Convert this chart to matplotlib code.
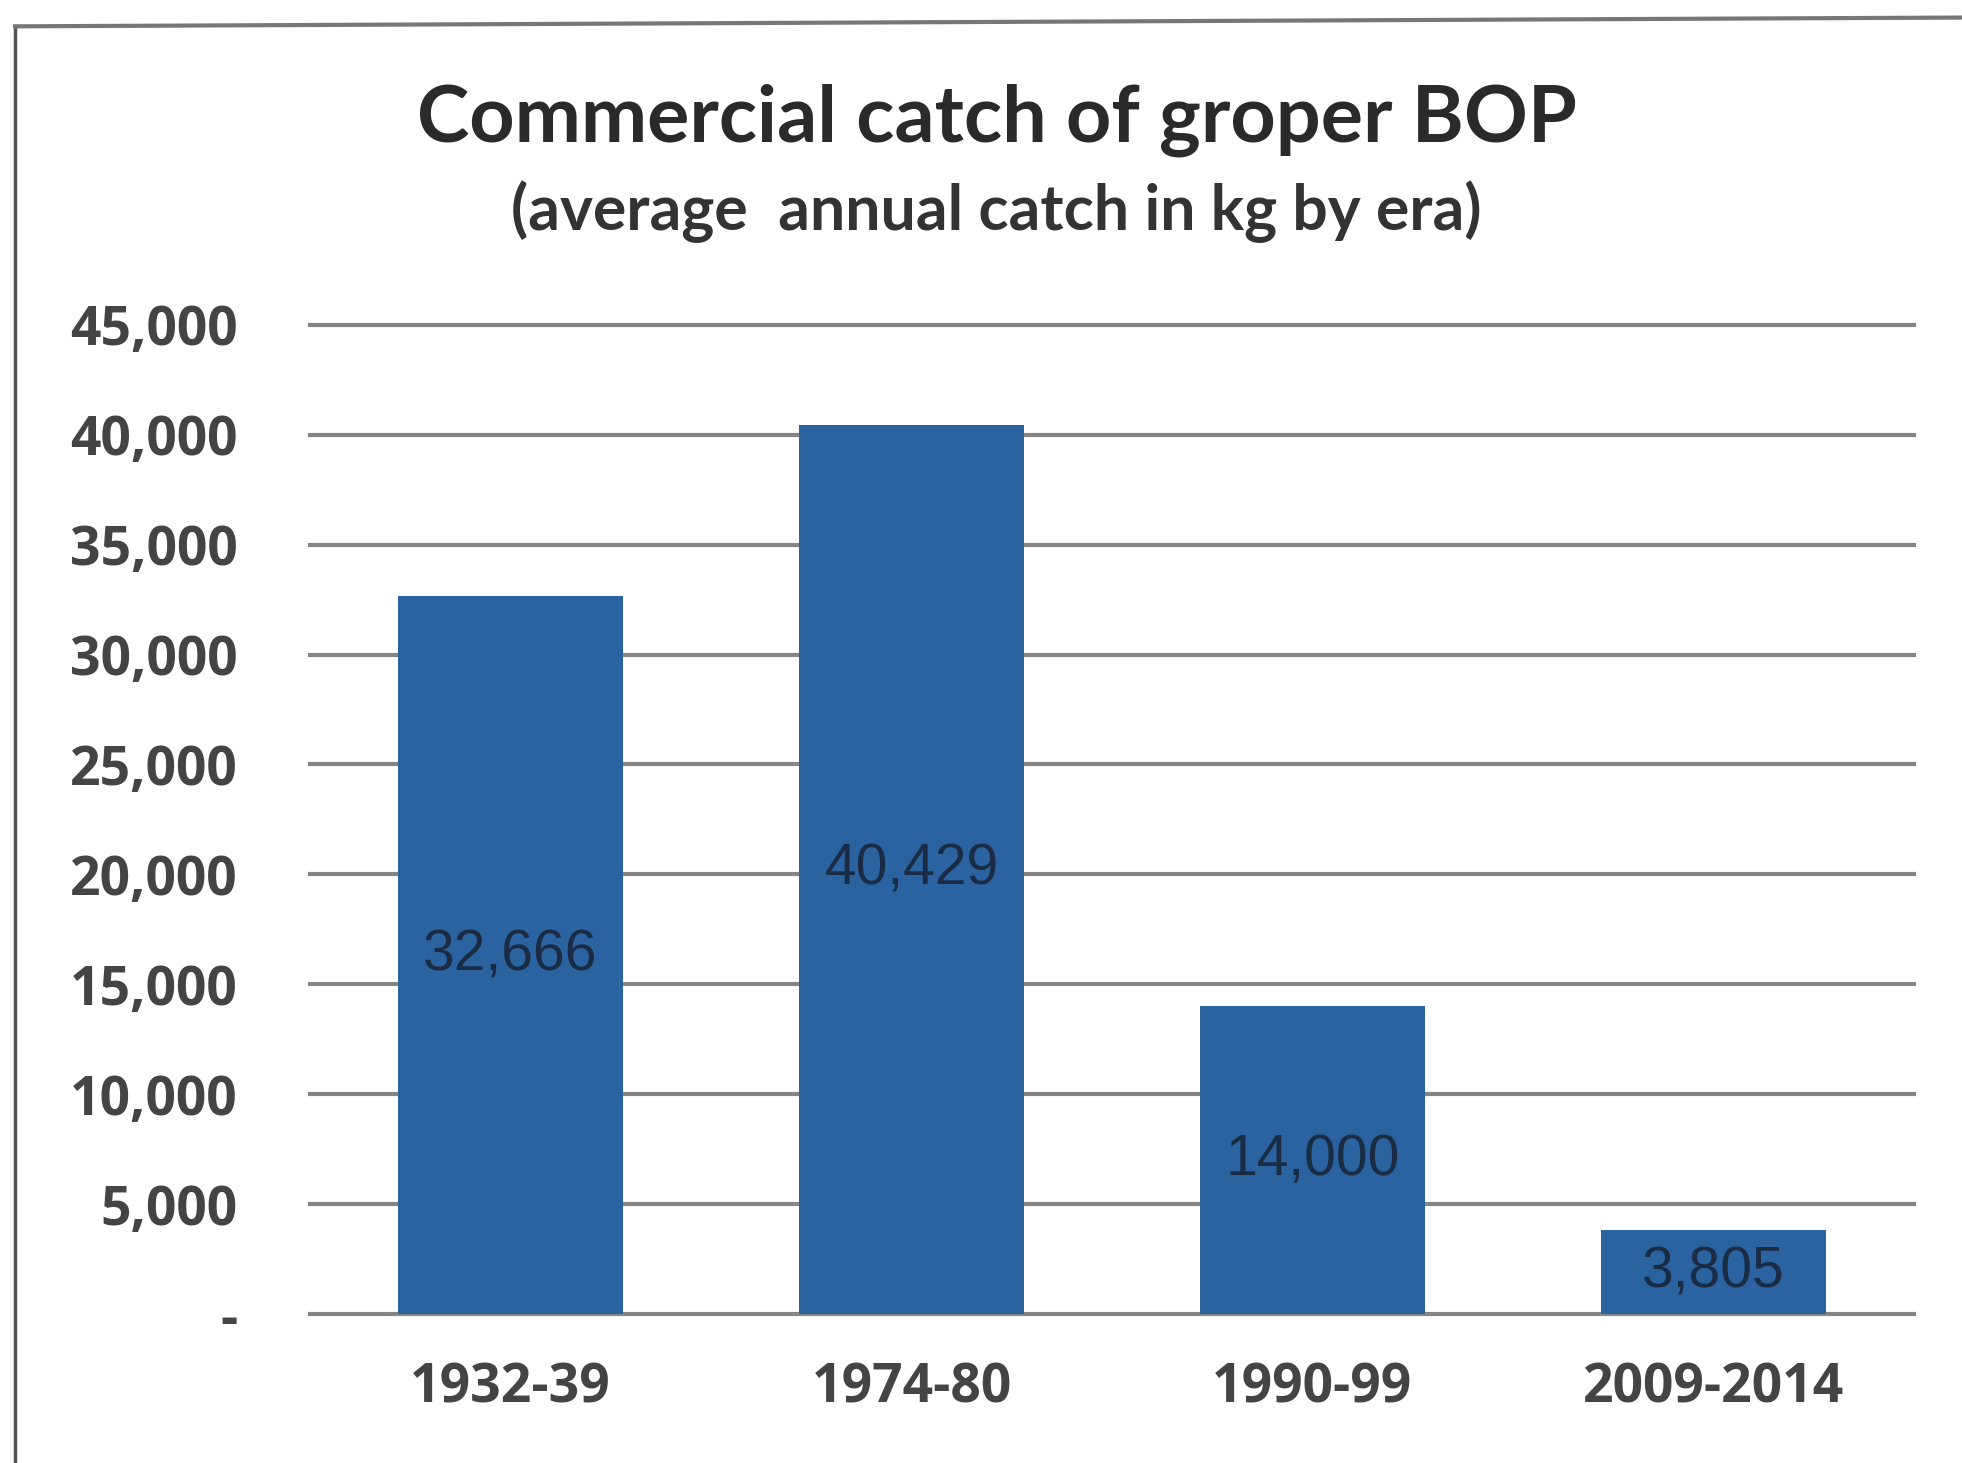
import matplotlib
matplotlib.use("Agg")
import matplotlib.pyplot as plt
from matplotlib.ticker import FuncFormatter

categories = ["1932-39", "1974-80", "1990-99", "2009-2014"]
values = [32666, 40429, 14000, 3805]
yticks = [0, 5000, 10000, 15000, 20000, 25000, 30000, 35000, 40000, 45000]

fig = plt.figure(figsize=(19.62, 14.63), dpi=100)
fig.patch.set_facecolor("white")
ax = fig.add_axes([0.158, 0.1018, 0.8175, 0.6762])

bar_color = "#2b63a0"
bars = ax.bar(range(len(categories)), values, width=0.56, color=bar_color, zorder=3)
ax.set_xlim(-0.5, len(categories) - 0.5)
ax.set_ylim(0, 45000)
ax.set_yticks(yticks)
ax.yaxis.set_major_formatter(FuncFormatter(lambda v, p: "-" if v == 0 else f"{int(v):,}"))
ax.set_xticks(range(len(categories)))
ax.set_xticklabels(categories)

for s in ax.spines.values():
    s.set_visible(False)
ax.grid(axis="y", color="#858585", linewidth=3, zorder=1)
for gl in ax.get_ygridlines():
    gl.set_clip_on(False)
ax.tick_params(axis="both", length=0)
ax.tick_params(axis="y", pad=52)
ax.tick_params(axis="x", pad=34)
for lab in ax.get_yticklabels() + ax.get_xticklabels():
    lab.set_fontfamily("Open Sans")
    lab.set_fontweight("bold")
    lab.set_fontsize(38.5)
    lab.set_color("#444444")

for i, v in enumerate(values):
    ax.text(i, v / 2, f"{v:,}", ha="center", va="center", fontsize=41,
            family="Liberation Sans", color="#1a2b45", zorder=4)

fig.text(0.508, 0.918, "Commercial catch of groper BOP", ha="center", va="center",
         fontsize=57, fontweight="bold", family="Lato", color="#2a2a2a")
fig.text(0.508, 0.855, "(average  annual catch in kg by era)", ha="center", va="center",
         fontsize=45, fontweight="bold", family="Lato", color="#333333")

# frame border of the chart box
fig.add_artist(plt.Line2D([0.0077, 0.0077], [0.0, 0.982], color="#555555", linewidth=2.5,
                          transform=fig.transFigure))
fig.add_artist(plt.Line2D([0.0077, 1.0], [0.982, 0.988], color="#777777", linewidth=3,
                          transform=fig.transFigure))

fig.savefig("out.png", dpi=100, facecolor="white")
